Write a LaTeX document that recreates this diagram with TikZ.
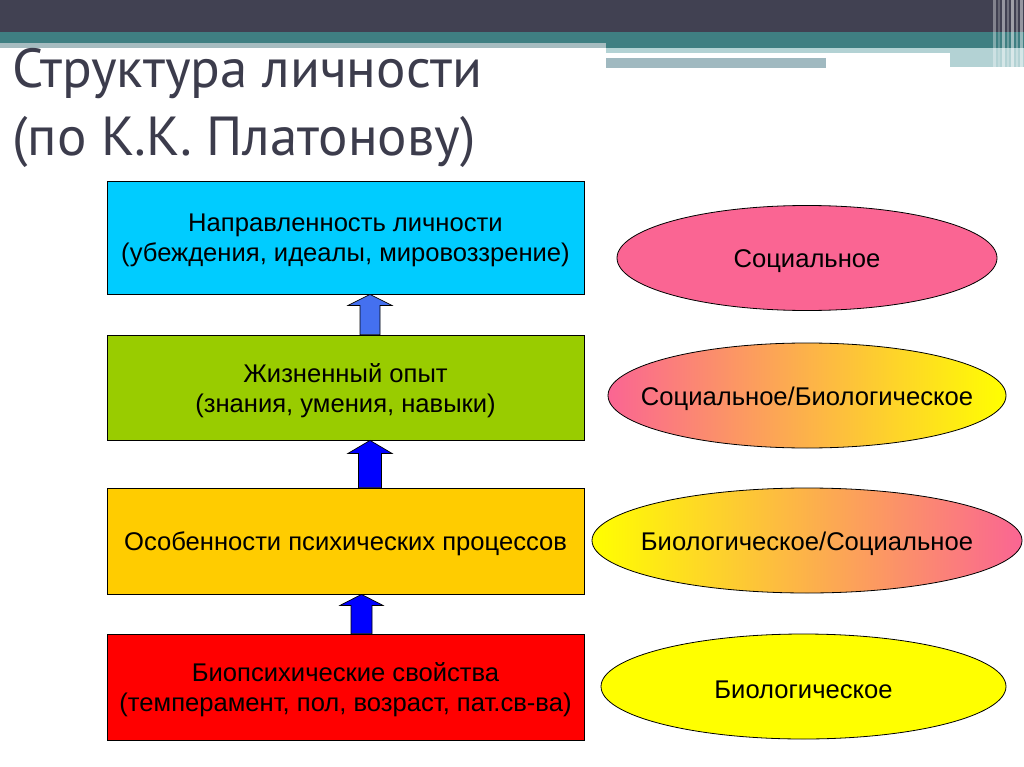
\documentclass[tikz,border=0pt]{standalone}
\usepackage{fontspec}
\setmainfont{Liberation Sans}
\newfontfamily\titlefont{PT Sans}
\usetikzlibrary{shapes.geometric,calc}
\definecolor{darkbar}{HTML}{414152}
\definecolor{tealbar}{HTML}{3F7F82}
\definecolor{lightstrip}{HTML}{A6BCC0}
\definecolor{lightblue}{HTML}{B3D2D4}
\definecolor{greyblue}{HTML}{A0B9C0}
\definecolor{titlec}{HTML}{3C3C4C}
\definecolor{cyanbox}{HTML}{00CCFF}
\definecolor{greenbox}{HTML}{99CC00}
\definecolor{orangebox}{HTML}{FFCC00}
\definecolor{redbox}{HTML}{FF0000}
\definecolor{pinkc}{HTML}{FA6593}
\definecolor{yellowc}{HTML}{FFFF00}
\definecolor{arrowlight}{HTML}{4470F0}
\definecolor{arrowblue}{HTML}{0000FF}
\newcommand\blockup[7]{%
  \filldraw[barrow, fill=#7] ($(#1.north)+(#3-#4,0)$) -- ($(#2.south)+(#3-#4,#6)$) -- ($(#2.south)+(#3-#5,#6)$) -- ($(#2.south)+(#3,0)$) -- ($(#2.south)+(#3+#5,#6)$) -- ($(#2.south)+(#3+#4,#6)$) -- ($(#1.north)+(#3+#4,0)$) -- cycle;}
\begin{document}
\begin{tikzpicture}[x=1pt,y=-1pt,
  txt/.style={font=\fontsize{25.6}{30}\selectfont, align=center, inner sep=0pt, yshift=-3pt},
  box/.style={draw=black, line width=0.8pt, minimum width=477pt, inner sep=0pt},
  oval/.style={ellipse, draw=black, line width=0.8pt, minimum height=105pt, inner sep=0pt},
  barrow/.style={draw=black, line width=0.7pt, line join=miter},
  titletext/.style={anchor=base west, inner sep=0pt, font=\titlefont\fontsize{55}{55}\selectfont, text=titlec}]
\useasboundingbox (0,0) rectangle (1024,767);
\fill[white] (0,0) rectangle (1024,767);
% top decoration
\fill[darkbar] (0,0) rectangle (1024,32);
\fill[tealbar] (0,32) rectangle (1024,43);
\fill[tealbar] (606,43) rectangle (1024,48);
\fill[lightstrip] (0,43) rectangle (606,48);
\fill[lightblue] (606,48) rectangle (1024,53);
\fill[lightblue] (950,53) rectangle (1024,67);
\fill[greyblue] (606,58) rectangle (826,68);
\foreach \xa/\w/\op in {993/3/0.35, 998/2/0.2, 1002/3/0.45, 1007/2/0.25, 1011/3/0.5, 1016/2/0.3, 1020/3/0.45}
  \fill[white, opacity=\op] (\xa,0) rectangle (\xa+\w,67);
% title
\node[titletext] (t1) at (12,88) {Структура личности};
\node[titletext] (t2) at (12,156) {(по К.К. Платонову)};
% boxes
\node[box, fill=cyanbox, minimum height=113pt, label={[txt]center:{Направленность личности\\(убеждения, идеалы, мировоззрение)}}] (b1) at (345.5,237.5) {};
\node[box, fill=greenbox, minimum height=105pt, label={[txt]center:{Жизненный опыт\\(знания, умения, навыки)}}] (b2) at (345.5,387.5) {};
\node[box, fill=orangebox, minimum height=106pt, label={[txt]center:{Особенности психических процессов}}] (b3) at (345.5,541) {};
\node[box, fill=redbox, minimum height=106pt, label={[txt]center:{Биопсихические свойства\\(темперамент, пол, возраст, пат.св-ва)}}] (b4) at (345.5,687) {};
% ellipses
\node[oval, fill=pinkc, minimum width=380pt, label={[txt]center:{Социальное}}] (e1) at (807,258) {};
\node[oval, left color=pinkc, right color=yellowc, minimum width=398pt, label={[txt]center:{Социальное/Биологическое}}] (e2) at (807,395.5) {};
\node[oval, left color=yellowc, right color=pinkc, minimum width=430pt, label={[txt]center:{Биологическое/Социальное}}] (e3) at (807,540.5) {};
\node[oval, fill=yellowc, minimum width=405pt, label={[txt]center:{Биологическое}}] (e4) at (803.5,686.5) {};
% block arrows
\blockup{b2}{b1}{24.5}{10}{22}{11}{arrowlight}
\blockup{b3}{b2}{24.5}{11.5}{22}{13}{arrowblue}
\blockup{b4}{b3}{16}{10.5}{21.5}{11}{arrowblue}
\end{tikzpicture}
\end{document}
